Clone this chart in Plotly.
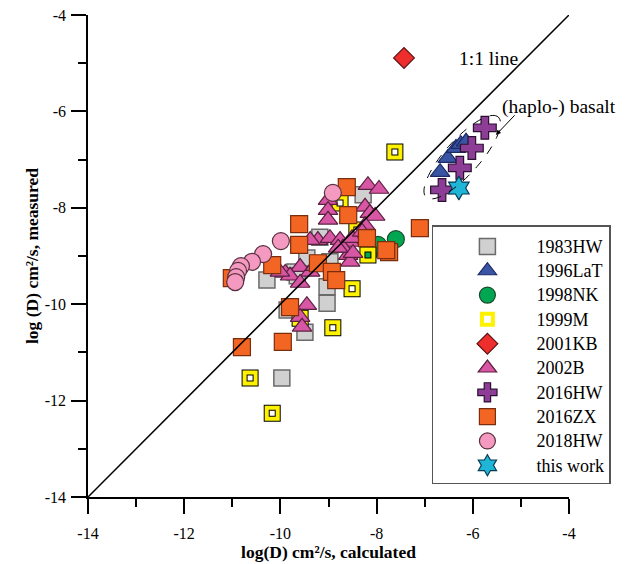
import numpy as np
import plotly.graph_objects as go

# ---------------- data ----------------
hw1983_x = [-10.28, -9.97, -9.70, -9.49, -9.86, -9.18, -9.03, -9.03, -8.28, -9.45, -9.65, -8.97]
hw1983_y = [-9.50, -11.53, -9.33, -10.58, -10.12, -8.61, -9.64, -9.98, -7.73, -9.04, -9.41, -9.12]

lat1996_x = [-6.68, -6.52, -6.35, -6.25, -6.14]
lat1996_y = [-7.26, -6.97, -6.76, -6.68, -6.63]

nk1998_x = [-8.16, -7.97, -7.60]
nk1998_y = [-8.94, -8.77, -8.65]

m1999_x = [-7.62, -8.18, -8.51, -8.91, -10.63, -10.17, -9.59, -8.76, -8.41]
m1999_y = [-6.84, -8.98, -9.68, -10.49, -11.53, -12.26, -10.29, -7.90, -8.46]

kb2001_x = [-7.43]
kb2001_y = [-4.89]

b2002_x = [-8.18, -7.95, -9.01, -9.01, -9.01, -8.24, -8.14, -8.03, -8.24, -9.22, -8.97,
           -8.76, -8.55, -8.59, -8.55, -8.70, -9.59, -9.90, -9.80, -10.01, -9.38, -9.28,
           -9.59, -9.45, -9.59, -9.55, -8.51, -8.49, -8.80, -8.30, -9.38]
b2002_y = [-7.53, -7.61, -7.84, -8.05, -8.25, -7.98, -8.11, -8.17, -8.36, -8.67, -8.63,
           -8.67, -8.71, -8.98, -9.12, -8.83, -9.23, -9.35, -9.41, -9.33, -9.33, -9.21,
           -9.56, -10.02, -10.27, -10.47, -8.63, -8.94, -8.83, -8.50, -8.67]

hw2016_x = [-5.75, -6.02, -6.27, -6.64]
hw2016_y = [-6.34, -6.76, -7.17, -7.63]

zx2016_x = [-7.10, -8.62, -8.59, -9.61, -9.61, -8.20, -7.74, -7.80, -10.17, -9.22, -8.93,
            -8.84, -9.80, -9.95, -10.80, -11.01]
zx2016_y = [-8.42, -7.57, -8.15, -8.34, -8.77, -8.63, -8.92, -8.88, -9.19, -9.15, -9.33,
            -9.50, -10.06, -10.78, -10.89, -9.46]

hw2018_x = [-8.91, -9.99, -10.36, -10.59, -10.82, -10.88, -10.92, -10.94]
hw2018_y = [-7.69, -8.69, -8.96, -9.12, -9.21, -9.31, -9.44, -9.54]

thiswork_x = [-6.29]
thiswork_y = [-7.59]

one_to_one = [-14, -4]
tick_vals = [-14, -12, -10, -8, -6, -4]
tick_text = ["-14", "-12", "-10", "-8", "-6", "-4"]

FONT = "Liberation Serif"

fig = go.Figure()

def lname(s):
    return f'<span style="font-size:18px">{s}</span>'

def add(name, x, y, symbol, fill, line, size=16, lw=1.2, showlegend=True):
    fig.add_trace(go.Scatter(
        x=x, y=y, mode="markers", name=lname(name), showlegend=showlegend,
        marker=dict(symbol=symbol, size=size, color=fill,
                    line=dict(color=line, width=lw))))

add("1983HW", hw1983_x, hw1983_y, "square", "#d0d0d0", "#6a6a6a", 16, 1.5)
add("1996LaT", lat1996_x, lat1996_y, "triangle-up", "#3a54a4", "#1b2a66", 17)
add("1998NK", nk1998_x, nk1998_y, "circle", "#00a651", "#1b4a2a", 17)
# 1999M: yellow frame with black edges, hollow centre
fig.add_trace(go.Scatter(x=m1999_x, y=m1999_y, mode="markers", showlegend=False,
                         marker=dict(symbol="square-open", size=11, color="black",
                                     line=dict(color="black", width=6))))
fig.add_trace(go.Scatter(x=m1999_x, y=m1999_y, mode="markers", name=lname("1999M"),
                         marker=dict(symbol="square-open", size=11, color="#fff200",
                                     line=dict(color="#fff200", width=4))))
add("2001KB", kb2001_x, kb2001_y, "diamond", "#ee2d2d", "#5a1010", 16)
add("2002B", b2002_x, b2002_y, "triangle-up", "#d857a5", "#5a2040", 17)
add("2016HW", hw2016_x, hw2016_y, "cross", "#8e3d97", "#2a1030", 19)
add("2016ZX", zx2016_x, zx2016_y, "square", "#f26522", "#7a2e0e", 17)
add("2018HW", hw2018_x, hw2018_y, "circle", "#f49ac1", "#5a3040", 17)
add("this work", thiswork_x, thiswork_y, "hexagram", "#1fb5d6", "#0a3a50", 18)

fig.add_trace(go.Scatter(x=one_to_one, y=one_to_one, mode="lines", showlegend=False,
                         line=dict(color="black", width=1.5), hoverinfo="skip"))

# dashed envelope around the basalt cluster
cx, cy, a, b, th = -6.22, -6.95, 1.12, 0.36, np.deg2rad(48)
t = np.linspace(0, 2 * np.pi, 80)
ex = cx + a * np.cos(t) * np.cos(th) - b * np.sin(t) * np.sin(th)
ey = cy + a * np.cos(t) * np.sin(th) + b * np.sin(t) * np.cos(th)
path = "M " + " L ".join(f"{px:.4f},{py:.4f}" for px, py in zip(ex, ey)) + " Z"
fig.add_shape(type="path", path=path, xref="x", yref="y",
              line=dict(color="black", width=1, dash="dash"))

fig.add_annotation(x=-5.68, y=-4.91, text="1:1 line", showarrow=False,
                   font=dict(family=FONT, size=19.5, color="black"))
fig.add_annotation(x=-4.20, y=-5.90, text="(haplo-) basalt", showarrow=False,
                   font=dict(family=FONT, size=19.5, color="black"))
fig.add_annotation(x=-5.52, y=-6.49, ax=-5.10, ay=-6.05, axref="x", ayref="y",
                   text="", showarrow=True, arrowhead=2, arrowsize=1, arrowwidth=1,
                   arrowcolor="black")

axis_common = dict(
    range=[-14, -4], tickvals=tick_vals, ticktext=tick_text, ticks="outside",
    ticklen=15, tickwidth=1.5, automargin=False, ticklabeloverflow="allow",
    tickcolor="black", showline=True, linecolor="black", linewidth=1.5,
    showgrid=False, zeroline=False,
    minor=dict(dtick=1, ticks="outside", ticklen=8, tickwidth=1.5, tickcolor="black",
               showgrid=False),
    tickfont=dict(family=FONT, size=16, color="black"),
)

fig.update_xaxes(**axis_common, ticklabelstandoff=6,
                 title=dict(text="<b>log(D) cm²/s, calculated</b>",
                            font=dict(family=FONT, size=17.5, color="black"), standoff=5))
fig.update_yaxes(**axis_common, ticklabelstandoff=2,
                 title=dict(text="<b>log (D) cm²/s, measured</b>",
                            font=dict(family=FONT, size=17.5, color="black"), standoff=2))

# page body has an 8px margin, so the figure is offset by 8px
fig.update_layout(
    width=620, height=556,
    margin=dict(l=80, r=59, t=7, b=67),
    paper_bgcolor="white", plot_bgcolor="white",
    font=dict(family=FONT, color="black"),
    legend=dict(x=0.715, y=0.564, xanchor="left", yanchor="top",
                bordercolor="#555555", borderwidth=1.5, bgcolor="white",
                font=dict(family=FONT, size=16.4, color="black"),
                title=dict(text=" ", font=dict(family=FONT, size=2)),
                itemwidth=88, indentation=5, tracegroupgap=0),
    showlegend=True,
)

fig.write_html("out.html")
